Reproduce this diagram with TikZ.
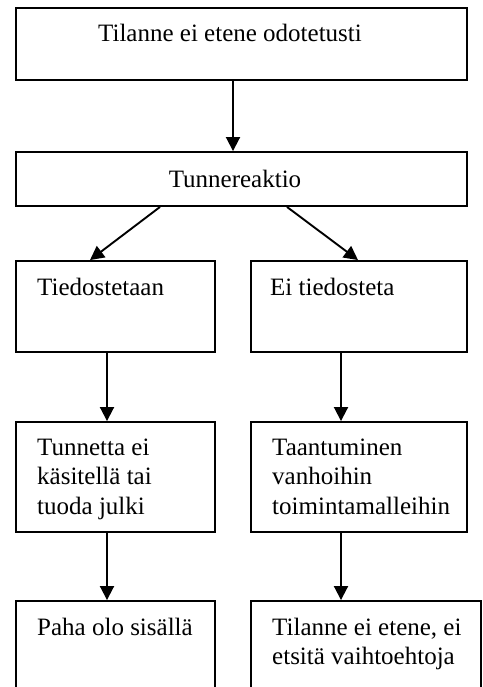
\documentclass[tikz,border=0pt]{standalone}
\usepackage{fontspec}
\setmainfont{Liberation Serif}
\usetikzlibrary{arrows.meta}

\begin{document}
\begin{tikzpicture}[x=1pt,y=-1pt]
\tikzset{box/.style = {shape=rectangle,draw,line width=1.9pt,inner sep=0pt}}
\tikzset{txt/.style = {inner sep=0pt,align=left,font=\fontsize{25}{29.5}\selectfont}}
\tikzset{edge/.style = {line width=1.9pt,-{Triangle[width=14pt,length=14pt]}}}
\useasboundingbox (0,0) rectangle (482,687);
\clip (0,0) rectangle (482,687);
% boxes
\node[box,minimum width=451,minimum height=72]  (tilanne)  at (241.5,44)  {};
\node[box,minimum width=451,minimum height=54]  (tunne)    at (241.5,179) {};
\node[box,minimum width=199,minimum height=91]  (tiedost)  at (115.5,306.5) {};
\node[box,minimum width=216,minimum height=91]  (eitied)   at (359,306.5) {};
\node[box,minimum width=199,minimum height=110] (kasit)    at (115.5,477) {};
\node[box,minimum width=216,minimum height=110] (taant)    at (359,477)   {};
\node[box,minimum width=199,minimum height=110] (paha)     at (115.5,656) {};
\node[box,minimum width=230,minimum height=110] (eietsi)   at (366,656)   {};
% texts (multi-line ones sit on the baseline of their last line)
\node[txt,anchor=base]      (tilannetxt) at (230,42)  {Tilanne ei etene odotetusti};
\node[txt,anchor=base]      (tunnetxt)   at (235,187) {Tunnereaktio};
\node[txt,anchor=base west] (tiedosttxt) at (37,295)  {Tiedostetaan};
\node[txt,anchor=base west] (eitiedtxt)  at (270,295) {Ei tiedosteta};
\node[txt,anchor=base west] (kasittxt)   at (37,514)  {Tunnetta ei\\käsitellä tai\\tuoda julki};
\node[txt,anchor=base west] (taanttxt)   at (272,514) {Taantuminen\\vanhoihin\\toimintamalleihin};
\node[txt,anchor=base west] (pahatxt)    at (37,635)  {Paha olo sisällä};
\node[txt,anchor=base west] (eietsitxt)  at (272,664.5) {Tilanne ei etene, ei\\etsitä vaihtoehtoja};
% edges
\draw[edge] ([xshift=-8.5]tilanne.south) -- ([xshift=-8.5]tunne.north);
\draw[edge] ([xshift=-81.5]tunne.south) -- ([xshift=-25.5]tiedost.north);
\draw[edge] ([xshift=45.5]tunne.south) -- ([xshift=-1]eitied.north);
\draw[edge] ([xshift=-8.5]tiedost.south) -- ([xshift=-8.5]kasit.north);
\draw[edge] ([xshift=-18]eitied.south) -- ([xshift=-18]taant.north);
\draw[edge] ([xshift=-8.5]kasit.south) -- ([xshift=-8.5]paha.north);
\draw[edge] ([xshift=-18]taant.south) -- ([xshift=-25]eietsi.north);
\end{tikzpicture}
\end{document}
